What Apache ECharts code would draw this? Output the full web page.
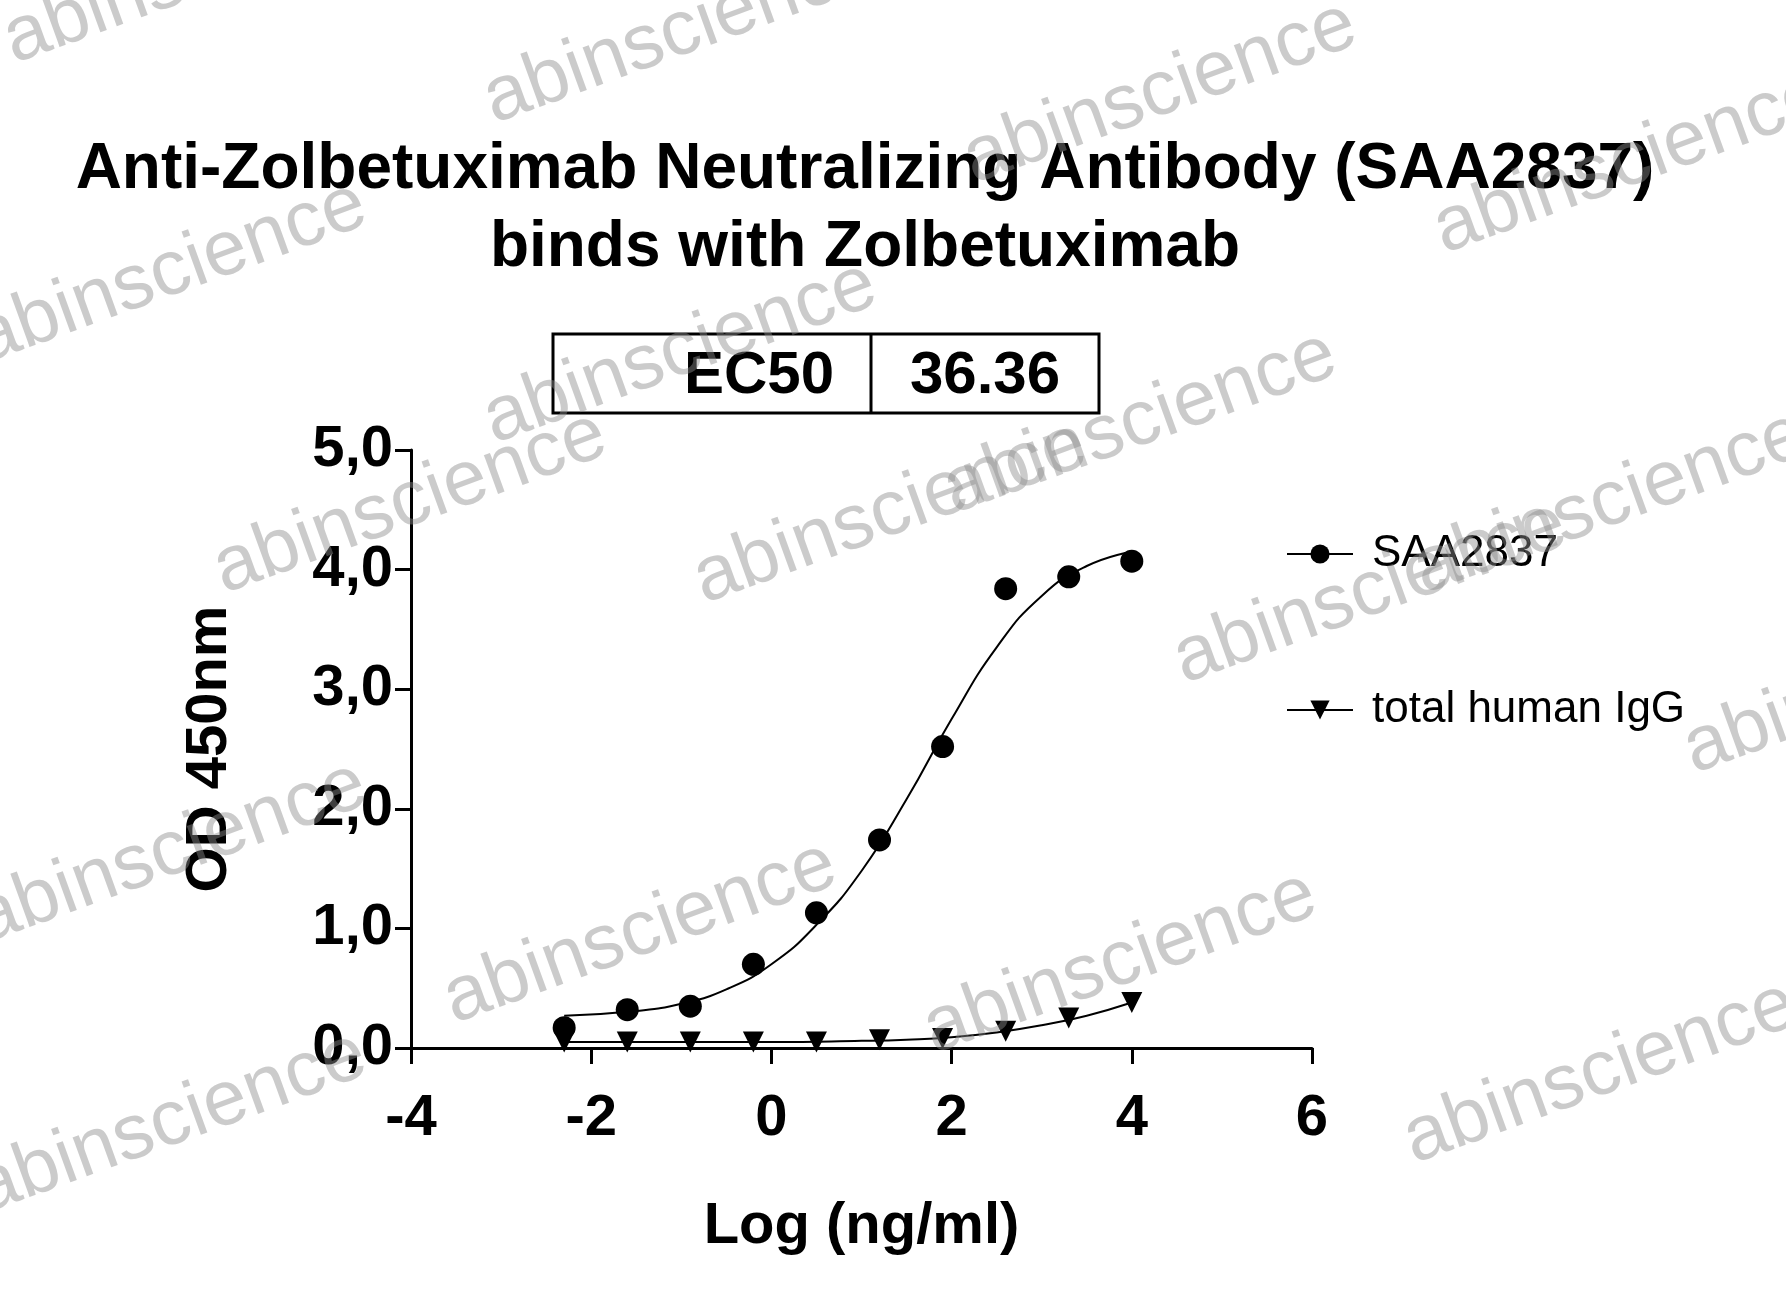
<!DOCTYPE html>
<html><head><meta charset="utf-8">
<script src="https://cdn.jsdelivr.net/npm/echarts@6/dist/echarts.min.js"></script>
<style>html,body{margin:0;background:#fff}#c{width:1786px;height:1295px}</style>
</head><body><div id="c"></div>
<script>
// measured points
var doseLog = [-2.3, -1.6, -0.9, -0.2, 0.5, 1.2, 1.9, 2.6, 3.3, 4.0];
var saaOD = [0.17, 0.32, 0.35, 0.70, 1.13, 1.74, 2.52, 3.84, 3.94, 4.07];
var iggOD = [0.05, 0.05, 0.05, 0.05, 0.05, 0.07, 0.08, 0.14, 0.25, 0.38];
// fitted curves
var fitX = [-2.3, -1.5, -1, -0.5, 0, 0.5, 1, 1.5, 2, 2.5, 3, 3.5, 4];
var saaFit = [0.27, 0.31, 0.37, 0.49, 0.70, 1.03, 1.48, 2.08, 2.75, 3.35, 3.78, 4.03, 4.15];
var iggFitX = [-2.3, -1, 0, 1, 1.5, 2, 2.5, 3, 3.5, 4];
var iggFit = [0.05, 0.05, 0.05, 0.06, 0.07, 0.09, 0.13, 0.19, 0.27, 0.38];

var chart = echarts.init(document.getElementById('c'));
var F = 'Arial, "Liberation Sans", sans-serif';
function pairs(xs, ys){ return xs.map(function(x,i){ return [x, ys[i]]; }); }

// watermark positions (left/baseline of text)
var wm = [];
[[20,80],[500,140],[980,200],[1450,270],[-10,380],[500,460],[960,530],[1430,610],
 [1190,700],[710,620],[230,610],[-10,960],[460,1040],[940,1070],[1420,1180],[-10,1230],[1700,790]].forEach(function(p){
  wm.push({type:'text', x:p[0], y:p[1], rotation:20*Math.PI/180, z:100,
    style:{text:'abinscience', font:'78px '+F, fill:'rgba(140,140,140,0.45)', textVerticalAlign:'bottom'}});
});

chart.setOption({
  backgroundColor:'#fff',
  animation:false,
  title:{text:'Anti-Zolbetuximab Neutralizing Antibody (SAA2837)\nbinds with Zolbetuximab',
    left:860, textAlign:'center', top:126,
    textStyle:{fontFamily:F, fontSize:64, fontWeight:'bold', color:'#000', lineHeight:78}},
  legend:{orient:'vertical', left:1281, top:527, itemGap:112, itemWidth:66, itemHeight:24,
    textStyle:{fontFamily:F, fontSize:44, color:'#000', padding:[0,0,0,14]},
    data:[{name:'SAA2837', lineStyle:{width:2, color:'#000'}},
          {name:'total human IgG', lineStyle:{width:2, color:'#000'}}]},
  grid:{left:411, top:450, width:901, height:598},
  xAxis:{type:'value', min:-4, max:6, interval:2,
    axisLine:{lineStyle:{color:'#000', width:3}},
    axisTick:{length:16, lineStyle:{width:3, color:'#000'}},
    axisLabel:{fontFamily:F, fontSize:58, fontWeight:'bold', color:'#000', margin:42},
    splitLine:{show:false},
    name:'Log (ng/ml)', nameLocation:'middle', nameGap:150,
    nameTextStyle:{fontFamily:F, fontSize:58, fontWeight:'bold', color:'#000'}},
  yAxis:{type:'value', min:0, max:5, interval:1,
    axisLine:{show:true, onZero:false, lineStyle:{color:'#000', width:3}},
    axisTick:{show:true, length:16, lineStyle:{width:3, color:'#000'}},
    axisLabel:{fontFamily:F, fontSize:58, fontWeight:'bold', color:'#000', margin:18,
      formatter:function(v){ return v.toFixed(1).replace('.', ','); }},
    splitLine:{show:false},
    name:'OD 450nm', nameLocation:'middle', nameGap:172,
    nameTextStyle:{fontFamily:F, fontSize:58, fontWeight:'bold', color:'#000'}},
  series:[
    {name:'SAA2837', type:'line', data:pairs(doseLog, saaOD), symbol:'circle', symbolSize:23,
      lineStyle:{width:0}, itemStyle:{color:'#000'}, z:3},
    {name:'total human IgG', type:'line', data:pairs(doseLog, iggOD), symbol:'triangle', symbolRotate:180,
      symbolSize:21, lineStyle:{width:0}, itemStyle:{color:'#000'}, z:3},
    {name:'SAA2837', type:'line', data:pairs(fitX, saaFit), smooth:true, showSymbol:false,
      lineStyle:{color:'#000', width:2}},
    {name:'total human IgG', type:'line', data:pairs(iggFitX, iggFit), smooth:true, showSymbol:false,
      lineStyle:{color:'#000', width:2}}
  ],
  graphic:[
    {type:'rect', shape:{x:553, y:334, width:546, height:79}, style:{fill:'none', stroke:'#000', lineWidth:3}},
    {type:'line', shape:{x1:871, y1:334, x2:871, y2:413}, style:{stroke:'#000', lineWidth:3}},
    {type:'text', x:759, y:376, style:{text:'EC50', font:'bold 60px '+F, fill:'#000', textAlign:'center', textVerticalAlign:'middle'}},
    {type:'text', x:985, y:376, style:{text:'36.36', font:'bold 60px '+F, fill:'#000', textAlign:'center', textVerticalAlign:'middle'}}
  ].concat(wm)
});
</script></body></html>
